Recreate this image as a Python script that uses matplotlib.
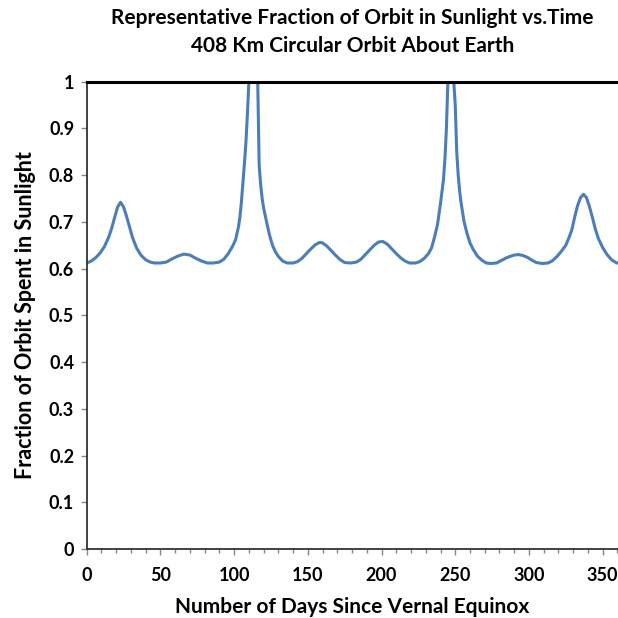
import matplotlib
matplotlib.use("Agg")
import matplotlib.pyplot as plt
from matplotlib.ticker import MultipleLocator

plt.rcParams['font.family'] = ['Lato', 'DejaVu Sans']

# day since vernal equinox and fraction of each orbit spent in sunlight
days = [0, 3, 6, 9, 12, 15, 17, 19, 21, 23, 25, 27, 29, 31, 34, 37, 40, 43, 46, 50,
        54, 58, 62, 66, 70, 74, 78, 82, 86, 90, 93, 96, 99, 101, 103, 104, 105, 106,
        107, 108, 109, 110, 112, 114, 116, 117, 118, 119, 120, 122, 124, 126, 128,
        130, 133, 136, 140, 143, 146, 149, 152, 155, 158, 160, 163, 166, 169, 172,
        175, 179, 183, 186, 189, 192, 195, 198, 201, 204, 207, 210, 213, 216, 219,
        223, 226, 229, 232, 234, 236, 238, 240, 241, 242, 243, 244, 245, 247, 249,
        250, 251, 252, 253, 254, 256, 258, 260, 262, 265, 268, 271, 274, 278, 281,
        284, 287, 290, 293, 296, 299, 302, 305, 309, 313, 316, 319, 322, 325, 327,
        329, 331, 333, 335, 337, 339, 341, 343, 345, 347, 350, 353, 356, 359, 360]
sunlit = [0.612, 0.616, 0.623, 0.633, 0.647, 0.668, 0.687, 0.710, 0.732, 0.742, 0.732,
          0.712, 0.690, 0.667, 0.643, 0.628, 0.619, 0.614, 0.612, 0.612,
          0.614, 0.621, 0.627, 0.631, 0.629, 0.622, 0.616, 0.612, 0.612, 0.614, 0.620,
          0.632, 0.648, 0.662, 0.690, 0.712, 0.745, 0.785,
          0.825, 0.870, 0.930, 1.0, 1.0, 1.0, 1.0, 0.820, 0.780, 0.750, 0.730, 0.700,
          0.672, 0.650, 0.636,
          0.626, 0.616, 0.612, 0.612, 0.615, 0.622, 0.632, 0.642, 0.651, 0.656, 0.655,
          0.648, 0.638, 0.628, 0.619,
          0.613, 0.612, 0.614, 0.620, 0.630, 0.640, 0.650, 0.657, 0.658, 0.652, 0.642,
          0.632, 0.623, 0.616, 0.612,
          0.612, 0.615, 0.622, 0.633, 0.645, 0.668, 0.695, 0.740, 0.765, 0.790, 0.835,
          0.900, 1.0, 1.0, 1.0,
          0.950, 0.850, 0.800, 0.765, 0.740, 0.700, 0.675, 0.655, 0.642, 0.627, 0.618,
          0.612, 0.611, 0.612, 0.617,
          0.622, 0.626, 0.629, 0.630, 0.628, 0.624, 0.618, 0.613, 0.611, 0.612, 0.617,
          0.626, 0.637, 0.650, 0.665,
          0.682, 0.710, 0.735, 0.752, 0.759, 0.752, 0.733, 0.710, 0.685, 0.665, 0.645,
          0.630, 0.619, 0.613, 0.612]

fig = plt.figure(figsize=(6.18, 6.18), dpi=100)
ax = fig.add_axes([0.1403, 0.1117, 0.8597, 0.7561])

ax.plot(days, sunlit, color='#4A7EBB', linewidth=2.2, solid_joinstyle='round')

ax.set_xlim(0, 360.4)
ax.set_ylim(0, 1)
ax.xaxis.set_major_locator(MultipleLocator(50))
ax.xaxis.set_minor_locator(MultipleLocator(10))
ax.set_yticks([i / 10 for i in range(11)])
ax.set_yticklabels(['0', '0.1', '0.2', '0.3', '0.4', '0.5', '0.6', '0.7', '0.8', '0.9', '1'])

ax.spines['right'].set_visible(False)
ax.spines['top'].set_color('black')
ax.spines['top'].set_linewidth(2.2)
for side in ('left', 'bottom'):
    ax.spines[side].set_color('#333333')
    ax.spines[side].set_linewidth(1.3)

ax.tick_params(axis='both', which='major', direction='out', length=4, width=1,
               color='#868686', labelsize=13)
ax.tick_params(axis='y', which='major', pad=5)
ax.tick_params(axis='x', which='major', pad=9)
ax.tick_params(axis='x', which='minor', direction='out', length=3, width=1,
               color='#868686')
for lbl in ax.get_xticklabels() + ax.get_yticklabels():
    lbl.set_fontweight('bold')

ax.set_xlabel('Number of Days Since Vernal Equinox', fontsize=15, fontweight='bold',
              labelpad=9)
ax.set_ylabel('Fraction of Orbit Spent in Sunlight', fontsize=15.5, fontweight='bold',
              labelpad=9)

# two-line title, each line placed on its own
fig.text(0.5705, 0.971, 'Representative Fraction of Orbit in Sunlight vs.Time',
         ha='center', va='center', fontsize=15, fontweight='bold')
fig.text(0.5705, 0.9256, '408 Km Circular Orbit About Earth',
         ha='center', va='center', fontsize=15, fontweight='bold')

fig.savefig('out.png', dpi=100)
